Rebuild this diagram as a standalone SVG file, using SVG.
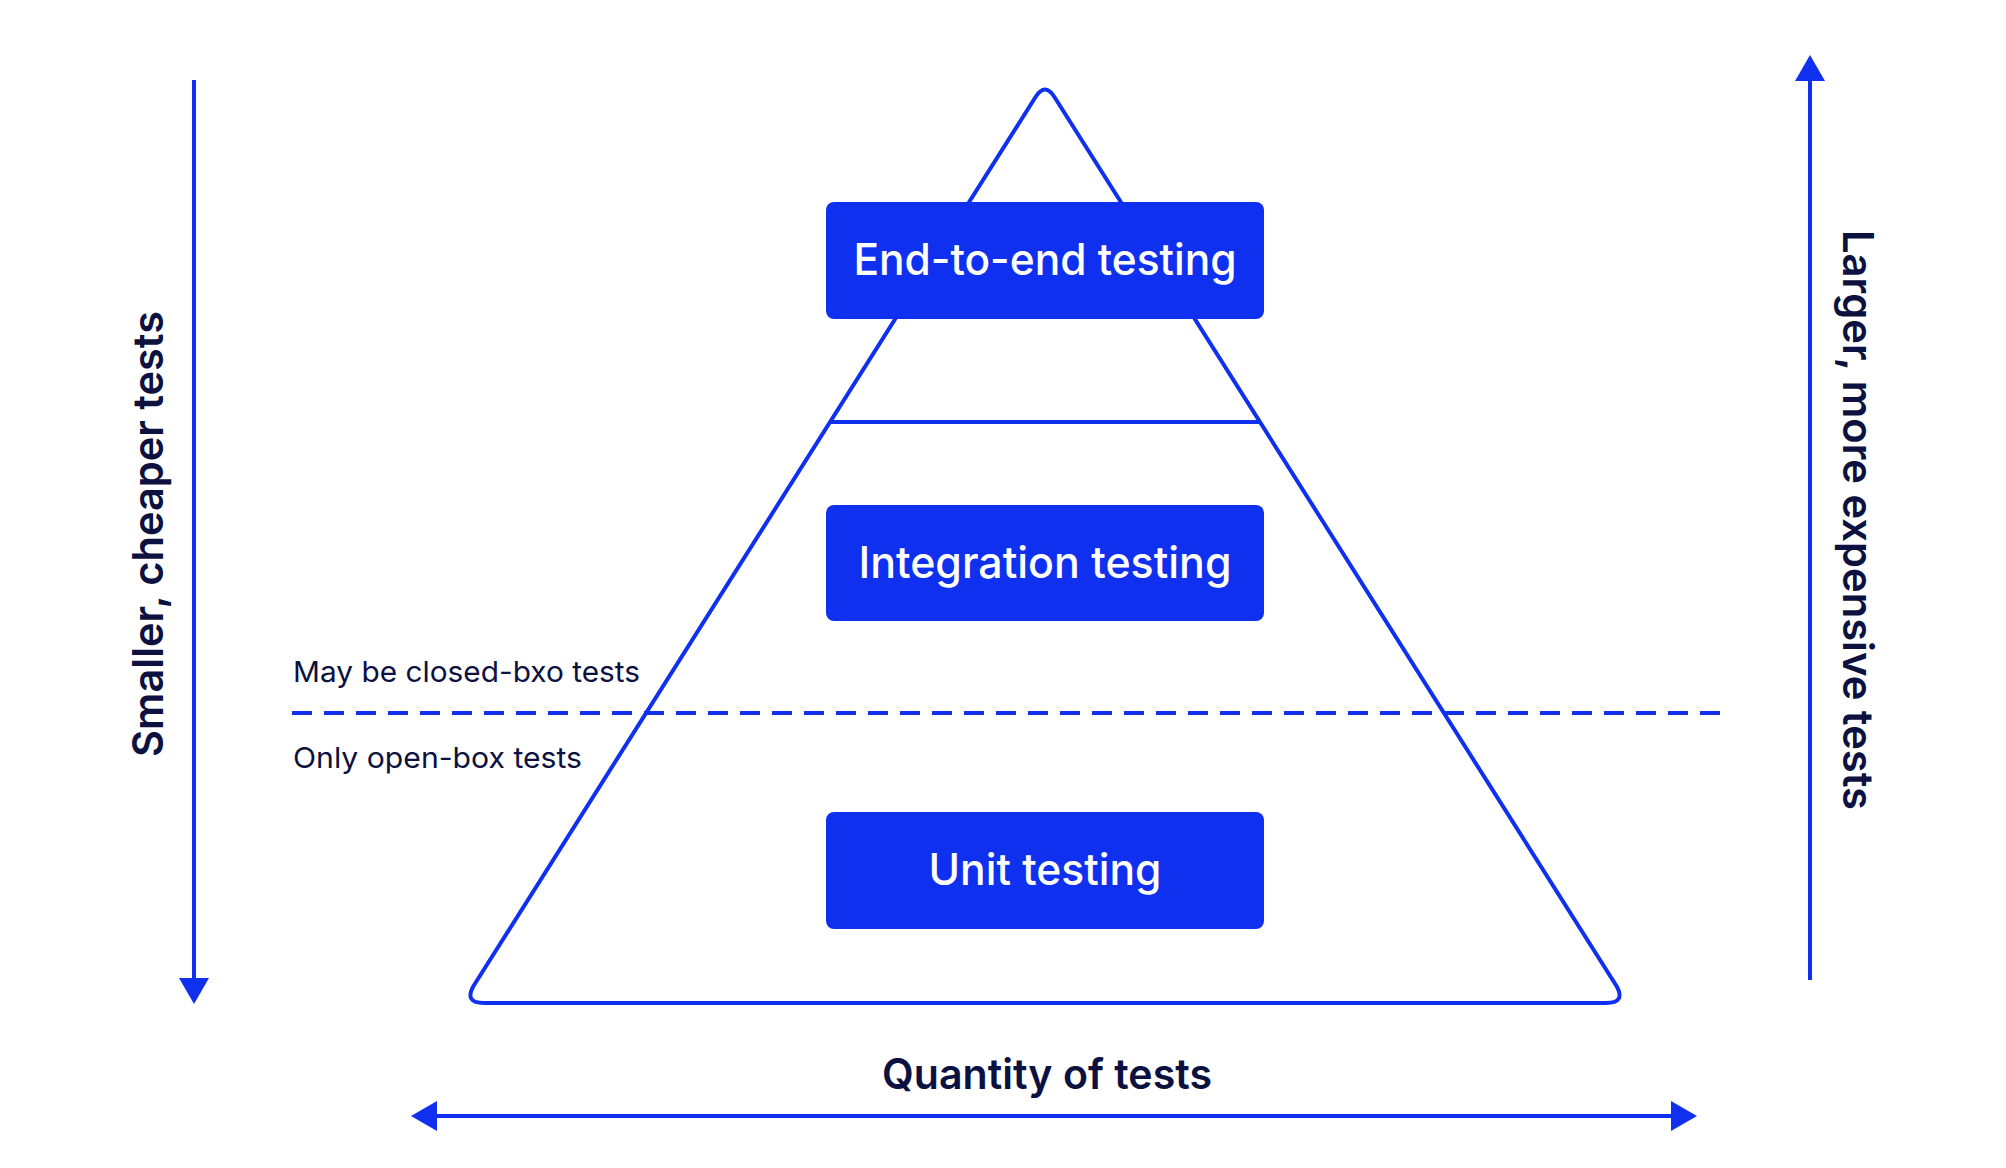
<svg xmlns="http://www.w3.org/2000/svg" width="2006" height="1168" viewBox="0 0 2006 1168">
  <style>
    .blue { stroke: #1030f0; fill: none; stroke-width: 4; }
    .box { fill: #1030f0; }
    .boxtxt { fill: #ffffff; font-family: Inter, "Noto Sans", "Liberation Sans", sans-serif; font-weight: 500; font-size: 44px; text-anchor: middle; }
    .small { fill: #0c1140; font-family: Inter, "Noto Sans", "Liberation Sans", sans-serif; font-weight: 400; font-size: 29px; }
    .axis { fill: #0c1140; font-family: Inter, "Noto Sans", "Liberation Sans", sans-serif; font-weight: 600; font-size: 42px; text-anchor: middle; }
  </style>
  <defs>
    <marker id="ah" viewBox="0 0 26 30" refX="0" refY="15" markerWidth="26" markerHeight="30" markerUnits="userSpaceOnUse" orient="auto">
      <path d="M0,0 L26,15 L0,30 Z" fill="#1030f0"/>
    </marker>
  </defs>
  <rect width="2006" height="1168" fill="#ffffff"/>

  <g id="pyramid">
    <path class="blue" stroke-linejoin="round" d="M1035.4,97.2 Q1045,82 1054.6,97.2 L1616.5,986 Q1626,1003 1606,1003 L484,1003 Q464,1003 473.5,986 Z"/>
    <line class="blue" x1="831" y1="422" x2="1259" y2="422"/>
  </g>

  <g id="divider">
    <line class="blue" x1="292" y1="713" x2="1730" y2="713" stroke-dasharray="20 12"/>
    <text class="small" x="293" y="682" textLength="347" lengthAdjust="spacingAndGlyphs">May be closed-bxo tests</text>
    <text class="small" x="293" y="768" textLength="289" lengthAdjust="spacingAndGlyphs">Only open-box tests</text>
  </g>

  <g id="box-e2e">
    <rect class="box" x="826" y="202" width="438" height="117" rx="8"/>
    <text class="boxtxt" x="1045" y="275" textLength="383" lengthAdjust="spacingAndGlyphs">End-to-end testing</text>
  </g>
  <g id="box-integration">
    <rect class="box" x="826" y="505" width="438" height="116" rx="8"/>
    <text class="boxtxt" x="1045" y="578" textLength="373" lengthAdjust="spacingAndGlyphs">Integration testing</text>
  </g>
  <g id="box-unit">
    <rect class="box" x="826" y="812" width="438" height="117" rx="8"/>
    <text class="boxtxt" x="1045" y="885" textLength="233" lengthAdjust="spacingAndGlyphs">Unit testing</text>
  </g>

  <g id="connectors">
    <line class="blue" x1="194" y1="80" x2="194" y2="978" marker-end="url(#ah)"/>
    <line class="blue" x1="1810" y1="980" x2="1810" y2="81" marker-end="url(#ah)"/>
    <line class="blue" x1="1045" y1="1116" x2="437" y2="1116" marker-end="url(#ah)"/>
    <line class="blue" x1="1045" y1="1116" x2="1671" y2="1116" marker-end="url(#ah)"/>
  </g>

  <g id="labels">
    <text class="axis" x="1047" y="1089" textLength="330" lengthAdjust="spacingAndGlyphs">Quantity of tests</text>
    <text class="axis" transform="translate(163,534) rotate(-90)" textLength="446" lengthAdjust="spacingAndGlyphs">Smaller, cheaper tests</text>
    <text class="axis" transform="translate(1843,520) rotate(90)" textLength="580" lengthAdjust="spacingAndGlyphs">Larger, more expensive tests</text>
  </g>
</svg>
